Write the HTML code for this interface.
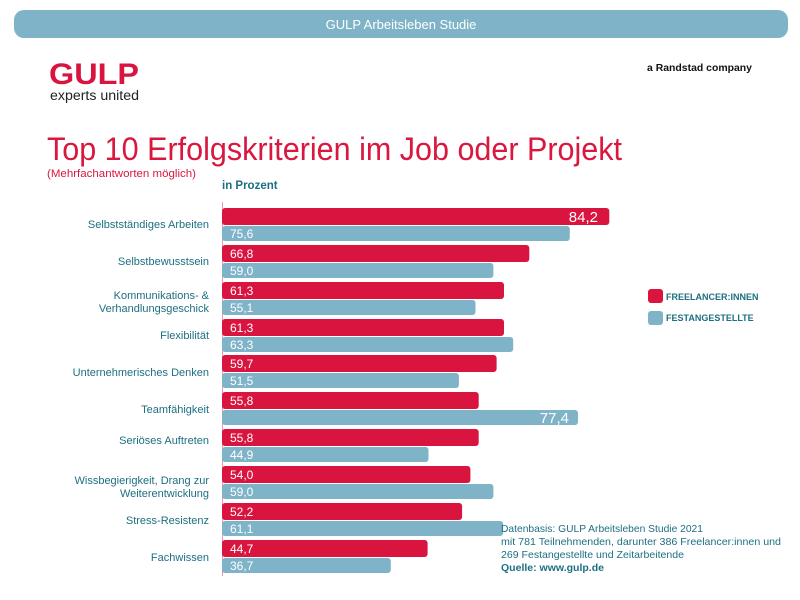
<!DOCTYPE html>
<html><head><meta charset="utf-8"><style>
html,body{margin:0;padding:0;background:#fff;}
svg{display:block;font-family:"Liberation Sans",sans-serif;}
.l{fill:#1d6f82;font-size:11px;text-anchor:end;}
.v{fill:#fff;font-size:12px;}
.r{fill:#d9153f;}
.b{fill:#7fb3c8;}
</style></head><body>
<svg width="800" height="600" viewBox="0 0 800 600">
<rect x="14" y="10" width="774" height="28" rx="10" fill="#7fb3c7"/>
<text x="401" y="29" fill="#fff" font-size="13" text-anchor="middle">GULP Arbeitsleben Studie</text>
<text x="49" y="84" fill="#d9153f" font-size="30" font-weight="bold" textLength="90" lengthAdjust="spacingAndGlyphs">GULP</text>
<text x="50" y="100" fill="#222" font-size="13.5" textLength="89" lengthAdjust="spacingAndGlyphs">experts united</text>
<text x="647" y="71" fill="#111" font-size="10.5" font-weight="bold" textLength="105" lengthAdjust="spacingAndGlyphs">a Randstad company</text>
<text x="47" y="160" fill="#d9173f" font-size="32" textLength="575" lengthAdjust="spacingAndGlyphs">Top 10 Erfolgskriterien im Job oder Projekt</text>
<text x="47" y="177" fill="#d9173f" font-size="11" textLength="149" lengthAdjust="spacingAndGlyphs">(Mehrfachantworten möglich)</text>
<text x="222" y="189" fill="#1d6f82" font-size="11.5" font-weight="bold">in Prozent</text>
<line x1="222.5" y1="202" x2="222.5" y2="576" stroke="#e89aad" stroke-width="1"/>
<g>
<rect class="r" x="222" y="208" width="387.3" height="17" rx="3"/><rect class="b" x="222" y="226" width="347.8" height="15" rx="3"/>
<rect class="r" x="222" y="245" width="307.3" height="17" rx="3"/><rect class="b" x="222" y="263" width="271.4" height="15" rx="3"/>
<rect class="r" x="222" y="282" width="282" height="17" rx="3"/><rect class="b" x="222" y="300" width="253.5" height="15" rx="3"/>
<rect class="r" x="222" y="319" width="282" height="17" rx="3"/><rect class="b" x="222" y="337" width="291.2" height="15" rx="3"/>
<rect class="r" x="222" y="355" width="274.6" height="17" rx="3"/><rect class="b" x="222" y="373" width="236.9" height="15" rx="3"/>
<rect class="r" x="222" y="392" width="256.7" height="17" rx="3"/><rect class="b" x="222" y="410" width="356" height="15" rx="3"/>
<rect class="r" x="222" y="429" width="256.7" height="17" rx="3"/><rect class="b" x="222" y="447" width="206.5" height="15" rx="3"/>
<rect class="r" x="222" y="466" width="248.4" height="17" rx="3"/><rect class="b" x="222" y="484" width="271.4" height="15" rx="3"/>
<rect class="r" x="222" y="503" width="240.1" height="17" rx="3"/><rect class="b" x="222" y="521" width="281.1" height="15" rx="3"/>
<rect class="r" x="222" y="540" width="205.6" height="17" rx="3"/><rect class="b" x="222" y="558" width="168.8" height="15" rx="3"/>
</g>
<g>
<text x="598" y="222" fill="#fff" font-size="15" text-anchor="end">84,2</text><text class="v" x="230" y="238">75,6</text>
<text class="v" x="230" y="258">66,8</text><text class="v" x="230" y="275">59,0</text>
<text class="v" x="230" y="295">61,3</text><text class="v" x="230" y="312">55,1</text>
<text class="v" x="230" y="332">61,3</text><text class="v" x="230" y="349">63,3</text>
<text class="v" x="230" y="368">59,7</text><text class="v" x="230" y="385">51,5</text>
<text class="v" x="230" y="405">55,8</text><text x="569" y="423" fill="#fff" font-size="15" text-anchor="end">77,4</text>
<text class="v" x="230" y="442">55,8</text><text class="v" x="230" y="459">44,9</text>
<text class="v" x="230" y="479">54,0</text><text class="v" x="230" y="496">59,0</text>
<text class="v" x="230" y="516">52,2</text><text class="v" x="230" y="533">61,1</text>
<text class="v" x="230" y="553">44,7</text><text class="v" x="230" y="570">36,7</text>
</g>
<g>
<text class="l" x="209" y="228">Selbstständiges Arbeiten</text>
<text class="l" x="209" y="265">Selbstbewusstsein</text>
<text class="l" x="209" y="299">Kommunikations- &amp;</text>
<text class="l" x="209" y="312">Verhandlungsgeschick</text>
<text class="l" x="209" y="339">Flexibilität</text>
<text class="l" x="209" y="376">Unternehmerisches Denken</text>
<text class="l" x="209" y="413">Teamfähigkeit</text>
<text class="l" x="209" y="444">Seriöses Auftreten</text>
<text class="l" x="209" y="484">Wissbegierigkeit, Drang zur</text>
<text class="l" x="209" y="497">Weiterentwicklung</text>
<text class="l" x="209" y="524">Stress-Resistenz</text>
<text class="l" x="209" y="561">Fachwissen</text>
</g>
<rect class="r" x="648" y="289" width="15" height="14" rx="3"/>
<rect class="b" x="648" y="311" width="15" height="14" rx="3"/>
<text x="666" y="300" fill="#1d6f82" font-size="9" font-weight="bold">FREELANCER:INNEN</text>
<text x="666" y="321" fill="#1d6f82" font-size="9" font-weight="bold">FESTANGESTELLTE</text>
<g fill="#1d6f82" font-size="10.5">
<text x="501" y="532" textLength="202" lengthAdjust="spacingAndGlyphs">Datenbasis: GULP Arbeitsleben Studie 2021</text>
<text x="501" y="545" textLength="280" lengthAdjust="spacingAndGlyphs">mit 781 Teilnehmenden, darunter 386 Freelancer:innen und</text>
<text x="501" y="558" textLength="183" lengthAdjust="spacingAndGlyphs">269 Festangestellte und Zeitarbeitende</text>
<text x="501" y="571" font-weight="bold" textLength="103" lengthAdjust="spacingAndGlyphs">Quelle: www.gulp.de</text>
</g>
</svg>
</body></html>
